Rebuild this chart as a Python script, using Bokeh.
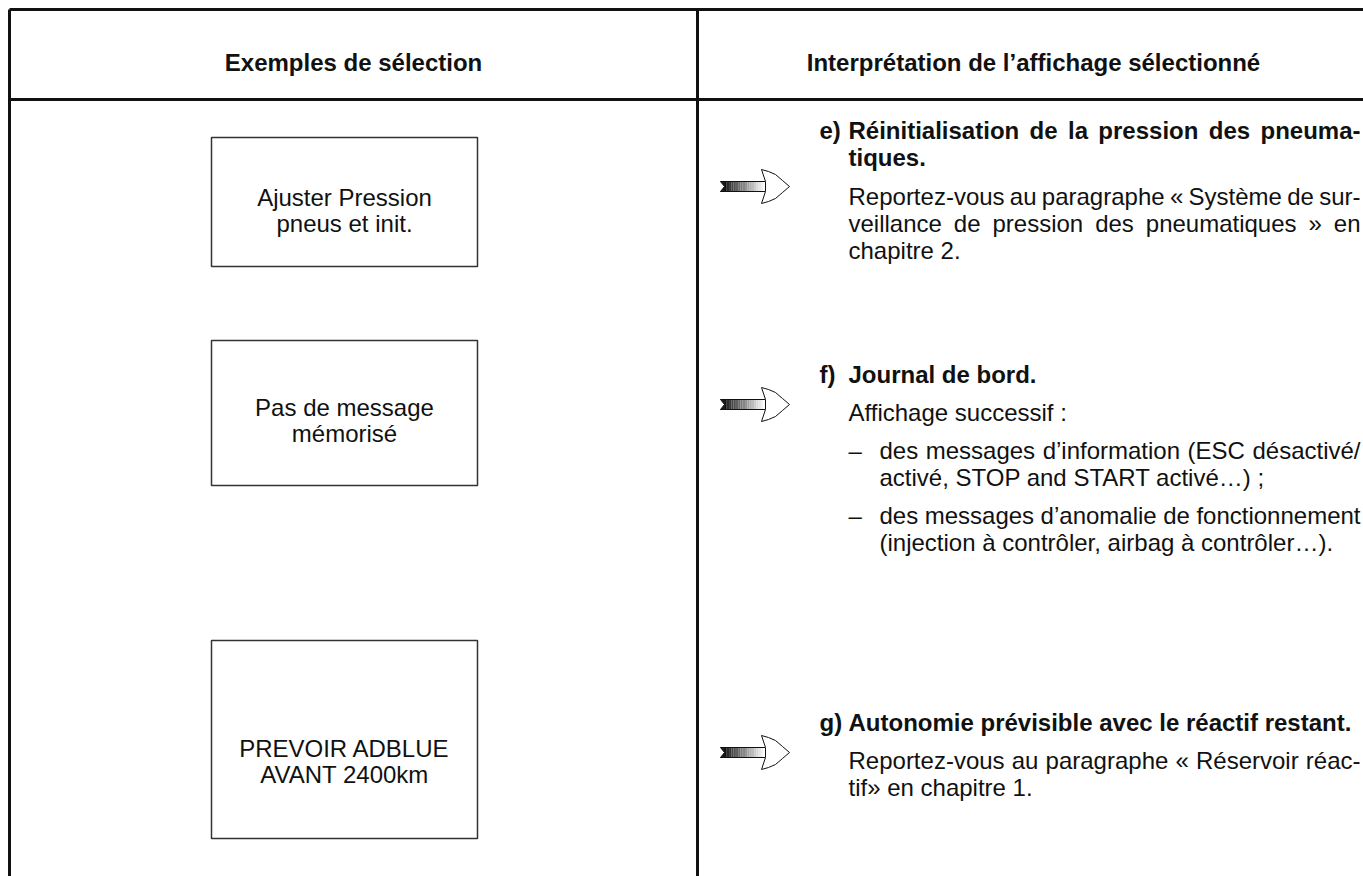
from bokeh.plotting import figure
from bokeh.embed import file_html
from bokeh.resources import INLINE
from bokeh.core.properties import value

# ---------------- data (texts) ----------------
header_left = "Exemples de sélection"
header_right = "Interprétation de l’affichage sélectionné"

box_texts = [
    ["Ajuster Pression", "pneus et init."],
    ["Pas de message", "mémorisé"],
    ["PREVOIR ADBLUE", "AVANT 2400km"],
]

item_labels = ["e)", "f)", "g)"]
# (text, justified?)
item_titles = [
    [("Réinitialisation de la pression des pneuma-", True), ("tiques.", False)],
    [("Journal de bord.", False)],
    [("Autonomie prévisible avec le réactif restant.", False)],
]
item_body = [
    [("Reportez-vous au paragraphe « Système de sur-", True),
     ("veillance de pression des pneumatiques » en", True),
     ("chapitre 2.", False)],
    [("Affichage successif :", False)],
    [("Reportez-vous au paragraphe « Réservoir réac-", True),
     ("tif» en chapitre 1.", False)],
]
bullets_f = [
    [("des messages d’information (ESC désactivé/", True),
     ("activé, STOP and START activé…) ;", False)],
    [("des messages d’anomalie de fonctionnement", True),
     ("(injection à contrôler, airbag à contrôler…).", False)],
]

# ---------------- font metrics (Arial / Liberation Sans, 1/1000 em) ----------------
REG = {" ": 278, "(": 333, ")": 333, ",": 278, "-": 333, ".": 278, "/": 278,
       ":": 278, ";": 278, "«": 556, "»": 556, "’": 222, "…": 1000, "–": 556,
       "A": 667, "B": 667, "C": 722, "D": 722, "E": 667, "F": 611, "G": 778,
       "H": 722, "I": 278, "J": 500, "K": 667, "L": 556, "M": 833, "N": 722,
       "O": 778, "P": 667, "Q": 778, "R": 722, "S": 667, "T": 611, "U": 722,
       "V": 667, "W": 944, "X": 667, "Y": 667, "Z": 611,
       "a": 556, "b": 556, "c": 500, "d": 556, "e": 556, "f": 278, "g": 556,
       "h": 556, "i": 222, "j": 222, "k": 500, "l": 222, "m": 833, "n": 556,
       "o": 556, "p": 556, "q": 556, "r": 333, "s": 500, "t": 278, "u": 556,
       "v": 500, "w": 722, "x": 500, "y": 500, "z": 500,
       "é": 556, "è": 556, "ê": 556, "à": 556, "ô": 556}
BOLD = dict(REG)
BOLD.update({":": 333, ";": 333, "’": 278, "A": 722, "B": 722, "J": 556, "K": 722,
             "L": 611, "b": 611, "c": 556, "d": 611, "f": 333, "g": 611, "h": 611,
             "i": 278, "j": 278, "k": 556, "l": 278, "m": 889, "n": 611, "o": 611,
             "p": 611, "q": 611, "r": 389, "s": 556, "t": 333, "u": 611, "v": 556,
             "w": 778, "x": 556, "y": 556, "ô": 611})


def text_width(s, size, bold=False):
    table = BOLD if bold else REG
    return sum(table.get(c, 556) for c in s) * size / 1000.0


# ---------------- layout ----------------
W, H = 1363, 876
FONT = value("Liberation Sans")
HS = 24      # header font size (px)
FS = 24      # body font size (px)
LINE = 27    # line pitch
RIGHT = 1360
TXT_X = 848
LAB_X = 819
BUL_X = 879
INK = "#111111"

p = figure(width=W, height=H, x_range=(0, W), y_range=(H, 0),
           output_backend="svg", toolbar_location=None, min_border=0)
p.axis.visible = False
p.grid.visible = False
p.outline_line_color = None
p.background_fill_color = "white"
p.border_fill_color = "white"

# table frame
p.segment(x0=[9, 9, 9, 697], y0=[9, 99, 9, 9],
          x1=[W, W, 9, 697], y1=[9, 99, H, H],
          line_color=INK, line_width=3)

# headers
p.text(x=[353, 1033], y=[62, 62], text=[header_left, header_right],
       text_font=FONT, text_font_size=f"{HS}px", text_font_style="bold",
       text_align="center", text_baseline="alphabetic", text_color=INK)

# boxes on the left
box_tops = [137, 340, 640]
box_bots = [266, 485, 838]
box_base = [197, 407, 748]
p.quad(left=[211] * 3, right=[477] * 3, top=box_tops, bottom=box_bots,
       fill_color="white", line_color="#333333", line_width=1.5)
bx, by, bt = [], [], []
for lines, y0 in zip(box_texts, box_base):
    for i, t in enumerate(lines):
        bx.append(344)
        by.append(y0 + i * 26)
        bt.append(t)
p.text(x=bx, y=by, text=bt, text_font=FONT, text_font_size=f"{FS}px",
       text_align="center", text_baseline="alphabetic", text_color=INK)

# right column -------------------------------------------------------
bold_x, bold_y, bold_t = [], [], []
norm_x, norm_y, norm_t = [], [], []


def place_line(s, x0, y, justify, bold):
    xs_, ys_, ts_ = (bold_x, bold_y, bold_t) if bold else (norm_x, norm_y, norm_t)
    if not justify:
        xs_.append(x0); ys_.append(y); ts_.append(s)
        return
    words = s.split(" ")
    widths = [text_width(w_, FS, bold) for w_ in words]
    gap = (RIGHT - x0 - sum(widths)) / max(len(words) - 1, 1)
    x = x0
    for w_, ww in zip(words, widths):
        xs_.append(x); ys_.append(y); ts_.append(w_)
        x += ww + gap


title_base = [130, 374, 722]
body_base = [196, 412, 760]
for lab, titles, ty in zip(item_labels, item_titles, title_base):
    bold_x.append(LAB_X); bold_y.append(ty); bold_t.append(lab)
    for i, (t, j) in enumerate(titles):
        place_line(t, TXT_X, ty + i * LINE, j, True)
for lines, y0 in zip(item_body, body_base):
    for i, (t, j) in enumerate(lines):
        place_line(t, TXT_X, y0 + i * LINE, j, False)
bullet_base = [450, 515]
for lines, y0 in zip(bullets_f, bullet_base):
    norm_x.append(TXT_X); norm_y.append(y0); norm_t.append("–")
    for i, (t, j) in enumerate(lines):
        place_line(t, BUL_X, y0 + i * LINE, j, False)

p.text(x=bold_x, y=bold_y, text=bold_t, text_font=FONT, text_font_size=f"{FS}px",
       text_font_style="bold", text_align="left", text_baseline="alphabetic",
       text_color=INK)
p.text(x=norm_x, y=norm_y, text=norm_t, text_font=FONT, text_font_size=f"{FS}px",
       text_align="left", text_baseline="alphabetic", text_color=INK)

# arrows ------------------------------------------------------------
arrow_y = [186, 404, 752]
AX = 720
L = 69          # total length
SH = 5          # half shaft height
HH = 17         # half head height
SL = 45         # shaft length
for ay in arrow_y:
    cx, cy = AX, ay
    n = 18
    xs, ys, cols = [], [], []
    for k in range(n):
        x0 = cx + 4 + k * (SL - 4) / n
        x1 = cx + 4 + (k + 1) * (SL - 4) / n
        g = int(30 + 225 * k / (n - 1))
        cols.append("#%02x%02x%02x" % (g, g, g))
        xs.append([x0, x1, x1, x0])
        ys.append([cy - SH, cy - SH, cy + SH, cy + SH])
    p.patches(xs=xs, ys=ys, fill_color=cols, line_color=None)
    # notched tail (concave left end)
    p.patch(x=[cx, cx + 5, cx + 5, cx, cx + 4],
            y=[cy - SH, cy - SH, cy + SH, cy + SH, cy],
            fill_color="#1a1a1a", line_color=INK, line_width=1)
    p.line(x=[cx, cx + SL], y=[cy - SH, cy - SH], line_color=INK, line_width=1)
    p.line(x=[cx, cx + SL], y=[cy + SH, cy + SH], line_color=INK, line_width=1)
    # outlined head with swept barbs and rounded sides
    hx = [cx + SL, cx + SL - 4, cx + SL + 3, cx + SL + 10, cx + SL + 17, cx + L,
          cx + SL + 17, cx + SL + 10, cx + SL + 3, cx + SL - 4, cx + SL]
    hy = [cy - SH, cy - HH, cy - HH + 2, cy - 12, cy - 6, cy,
          cy + 6, cy + 12, cy + HH - 2, cy + HH, cy + SH]
    p.patch(x=hx, y=hy, fill_color="white", line_color=INK, line_width=1)

open("out.html", "w").write(file_html(p, INLINE))
